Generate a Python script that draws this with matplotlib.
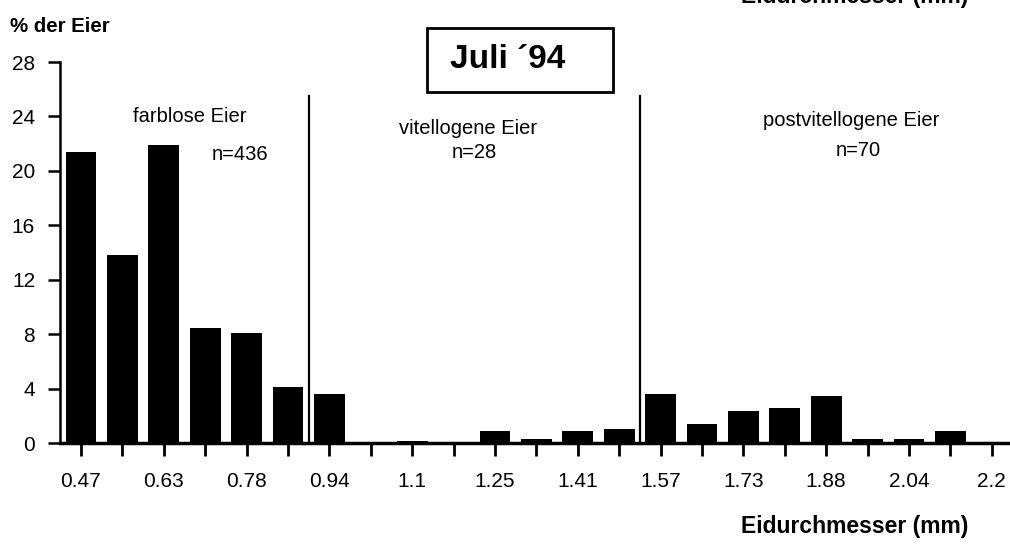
import matplotlib
matplotlib.use("Agg")
import matplotlib.pyplot as plt
from matplotlib.patches import Rectangle

plt.rcParams['font.family'] = ['Liberation Sans', 'DejaVu Sans']

# Egg-diameter classes (every second class is labelled)
tick_labels = ["0.47", "", "0.63", "", "0.78", "", "0.94", "", "1.1", "", "1.25", "",
               "1.41", "", "1.57", "", "1.73", "", "1.88", "", "2.04", "", "2.2"]
# Percentage of eggs per diameter class
percent = [21.4, 13.8, 21.9, 8.5, 8.1, 4.1, 3.6, 0.0, 0.15, 0.0, 0.9, 0.35,
           0.9, 1.05, 3.6, 1.4, 2.4, 2.6, 3.5, 0.35, 0.35, 0.9]
# Group boundaries (between classes) and group labels
boundaries = [5.5, 13.5]
group_names = ["farblose Eier", "vitellogene Eier", "postvitellogene Eier"]
group_n = ["n=436", "n=28", "n=70"]
y_ticks = [0, 4, 8, 12, 16, 20, 24, 28]

W, H = 1010, 549
fig = plt.figure(figsize=(W / 100, H / 100), dpi=100)

def fx(px):
    return px / W

def fy(py):
    return 1 - py / H

ax = fig.add_axes([fx(60), fy(443.3), 1 - fx(60), (443.3 - 62) / H])
positions = list(range(len(percent)))
ax.bar(positions, percent, width=0.74, color="black", clip_on=False, zorder=2)

ax.set_xlim(-0.507, 22.44)
ax.set_ylim(0, 28)
ax.set_xticks(range(len(tick_labels)))
ax.set_xticklabels(tick_labels)
ax.set_yticks(y_ticks)
ax.set_yticklabels([str(v) for v in y_ticks])

for side in ("top", "right"):
    ax.spines[side].set_visible(False)
ax.spines["bottom"].set_linewidth(2.5)
ax.spines["left"].set_linewidth(1.8)
ax.spines["bottom"].set_zorder(3)
ax.tick_params(axis="x", direction="out", length=9, width=2, pad=12, labelsize=15)
ax.tick_params(axis="y", direction="out", length=9, width=1.8, pad=9, labelsize=15)

# Vertical separators between egg groups
for b in boundaries:
    ax.plot([b, b], [0, 25.5], color="black", lw=1.6, clip_on=False, zorder=3)

# Group annotations
fs = 14.5
fig.text(fx(190), fy(117), group_names[0], ha="center", va="center", fontsize=fs)
fig.text(fx(240), fy(155), group_n[0], ha="center", va="center", fontsize=fs)
fig.text(fx(468), fy(128), group_names[1], ha="center", va="center", fontsize=fs)
fig.text(fx(474), fy(153), group_n[1], ha="center", va="center", fontsize=fs)
fig.text(fx(851), fy(120), group_names[2], ha="center", va="center", fontsize=fs)
fig.text(fx(858), fy(150), group_n[2], ha="center", va="center", fontsize=fs)

# Title box
fig.patches.append(Rectangle((fx(427), fy(92)), fx(613) - fx(427), fy(28) - fy(92),
                             transform=fig.transFigure, fill=False, lw=2, edgecolor="black"))
fig.text(fx(508), fy(60), "Juli \u00b494", ha="center", va="center", fontsize=24,
         fontweight="bold")

# Axis titles
fig.text(fx(10), fy(26), "% der Eier", ha="left", va="center", fontsize=14.7,
         fontweight="bold")
fig.text(fx(968), fy(527), "Eidurchmesser (mm)", ha="right", va="center", fontsize=16.5,
         fontweight="bold")
fig.text(fx(968), fy(-4), "Eidurchmesser (mm)", ha="right", va="center", fontsize=16.5,
         fontweight="bold")

fig.savefig("out.png", dpi=100)
